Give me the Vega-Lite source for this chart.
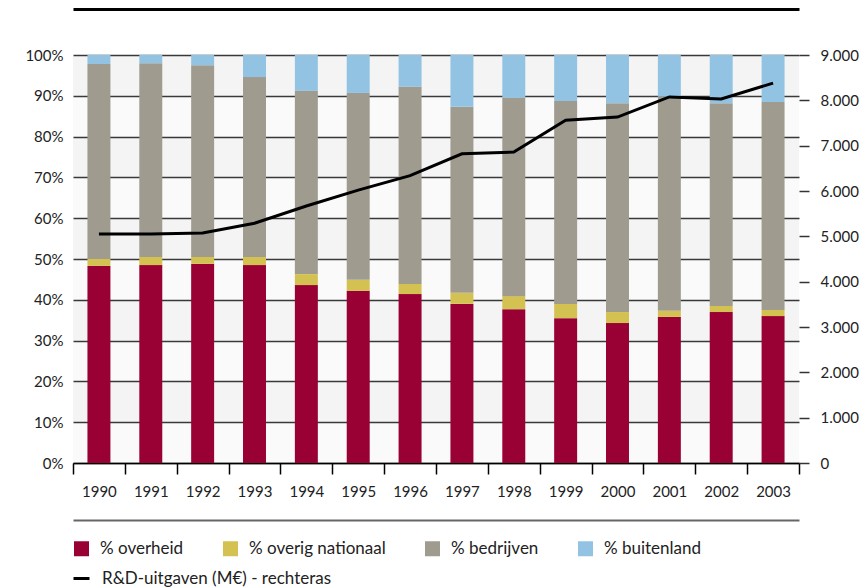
{
  "$schema": "https://vega.github.io/schema/vega-lite/v6.json",
  "width": 726,
  "height": 408,
  "autosize": "none",
  "padding": {"left": 73, "top": 55, "right": 60, "bottom": 125},
  "background": "white",
  "config": {
    "view": {"fill": "#fafafa", "stroke": null},
    "font": "Lato",
    "axis": {"labelFont": "Lato", "labelFontSize": 15, "labelColor": "#222", "title": null},
    "legend": {"labelFont": "Lato", "labelFontSize": 17, "labelColor": "#222", "labelLimit": 500}
  },
  "datasets": {
    "stripes": [
      {"lo": 90, "hi": 100}, {"lo": 70, "hi": 80}, {"lo": 50, "hi": 60}, {"lo": 30, "hi": 40}, {"lo": 10, "hi": 20}
    ],
    "shares": [
      {"year": "1990", "source": "% overheid", "rank": 1, "pct": 48.3}, {"year": "1990", "source": "% overig nationaal", "rank": 2, "pct": 1.7}, {"year": "1990", "source": "% bedrijven", "rank": 3, "pct": 47.8}, {"year": "1990", "source": "% buitenland", "rank": 4, "pct": 2.2},
      {"year": "1991", "source": "% overheid", "rank": 1, "pct": 48.5}, {"year": "1991", "source": "% overig nationaal", "rank": 2, "pct": 2.0}, {"year": "1991", "source": "% bedrijven", "rank": 3, "pct": 47.5}, {"year": "1991", "source": "% buitenland", "rank": 4, "pct": 2.0},
      {"year": "1992", "source": "% overheid", "rank": 1, "pct": 48.8}, {"year": "1992", "source": "% overig nationaal", "rank": 2, "pct": 1.7}, {"year": "1992", "source": "% bedrijven", "rank": 3, "pct": 47.0}, {"year": "1992", "source": "% buitenland", "rank": 4, "pct": 2.5},
      {"year": "1993", "source": "% overheid", "rank": 1, "pct": 48.5}, {"year": "1993", "source": "% overig nationaal", "rank": 2, "pct": 2.0}, {"year": "1993", "source": "% bedrijven", "rank": 3, "pct": 44.1}, {"year": "1993", "source": "% buitenland", "rank": 4, "pct": 5.4},
      {"year": "1994", "source": "% overheid", "rank": 1, "pct": 43.6}, {"year": "1994", "source": "% overig nationaal", "rank": 2, "pct": 2.7}, {"year": "1994", "source": "% bedrijven", "rank": 3, "pct": 44.9}, {"year": "1994", "source": "% buitenland", "rank": 4, "pct": 8.8},
      {"year": "1995", "source": "% overheid", "rank": 1, "pct": 42.2}, {"year": "1995", "source": "% overig nationaal", "rank": 2, "pct": 2.7}, {"year": "1995", "source": "% bedrijven", "rank": 3, "pct": 45.8}, {"year": "1995", "source": "% buitenland", "rank": 4, "pct": 9.3},
      {"year": "1996", "source": "% overheid", "rank": 1, "pct": 41.4}, {"year": "1996", "source": "% overig nationaal", "rank": 2, "pct": 2.5}, {"year": "1996", "source": "% bedrijven", "rank": 3, "pct": 48.3}, {"year": "1996", "source": "% buitenland", "rank": 4, "pct": 7.8},
      {"year": "1997", "source": "% overheid", "rank": 1, "pct": 39.0}, {"year": "1997", "source": "% overig nationaal", "rank": 2, "pct": 2.7}, {"year": "1997", "source": "% bedrijven", "rank": 3, "pct": 45.6}, {"year": "1997", "source": "% buitenland", "rank": 4, "pct": 12.7},
      {"year": "1998", "source": "% overheid", "rank": 1, "pct": 37.7}, {"year": "1998", "source": "% overig nationaal", "rank": 2, "pct": 3.2}, {"year": "1998", "source": "% bedrijven", "rank": 3, "pct": 48.6}, {"year": "1998", "source": "% buitenland", "rank": 4, "pct": 10.5},
      {"year": "1999", "source": "% overheid", "rank": 1, "pct": 35.5}, {"year": "1999", "source": "% overig nationaal", "rank": 2, "pct": 3.5}, {"year": "1999", "source": "% bedrijven", "rank": 3, "pct": 49.7}, {"year": "1999", "source": "% buitenland", "rank": 4, "pct": 11.3},
      {"year": "2000", "source": "% overheid", "rank": 1, "pct": 34.3}, {"year": "2000", "source": "% overig nationaal", "rank": 2, "pct": 2.7}, {"year": "2000", "source": "% bedrijven", "rank": 3, "pct": 51.2}, {"year": "2000", "source": "% buitenland", "rank": 4, "pct": 11.8},
      {"year": "2001", "source": "% overheid", "rank": 1, "pct": 35.8}, {"year": "2001", "source": "% overig nationaal", "rank": 2, "pct": 1.5}, {"year": "2001", "source": "% bedrijven", "rank": 3, "pct": 52.5}, {"year": "2001", "source": "% buitenland", "rank": 4, "pct": 10.2},
      {"year": "2002", "source": "% overheid", "rank": 1, "pct": 37.0}, {"year": "2002", "source": "% overig nationaal", "rank": 2, "pct": 1.5}, {"year": "2002", "source": "% bedrijven", "rank": 3, "pct": 49.7}, {"year": "2002", "source": "% buitenland", "rank": 4, "pct": 11.8},
      {"year": "2003", "source": "% overheid", "rank": 1, "pct": 36.0}, {"year": "2003", "source": "% overig nationaal", "rank": 2, "pct": 1.5}, {"year": "2003", "source": "% bedrijven", "rank": 3, "pct": 51.0}, {"year": "2003", "source": "% buitenland", "rank": 4, "pct": 11.5}
    ],
    "spend": [
      {"year": "1990", "spend": 5050}, {"year": "1991", "spend": 5050}, {"year": "1992", "spend": 5075},
      {"year": "1993", "spend": 5290}, {"year": "1994", "spend": 5670}, {"year": "1995", "spend": 6020},
      {"year": "1996", "spend": 6340}, {"year": "1997", "spend": 6820}, {"year": "1998", "spend": 6860},
      {"year": "1999", "spend": 7560}, {"year": "2000", "spend": 7630}, {"year": "2001", "spend": 8075},
      {"year": "2002", "spend": 8030}, {"year": "2003", "spend": 8380}
    ]
  },
  "layer": [
    {
      "data": {"name": "stripes"},
      "mark": {"type": "rect", "fill": "#000", "opacity": 0.025},
      "encoding": {
        "y": {"field": "lo", "type": "quantitative", "scale": {"domain": [0, 100], "nice": false}, "axis": null},
        "y2": {"field": "hi"}
      }
    },
    {
      "data": {"name": "shares"},
      "mark": {"type": "bar", "width": {"band": 0.443}},
      "encoding": {
        "x": {
          "field": "year", "type": "ordinal",
          "scale": {"type": "band", "paddingInner": 0, "paddingOuter": 0},
          "axis": {
            "orient": "bottom", "tickBand": "extent", "tickSize": 11, "tickColor": "#000", "tickWidth": 1.5,
            "domainColor": "#000", "domainWidth": 1.5, "labelPadding": 10, "labelAngle": 0, "grid": false, "title": null
          }
        },
        "y": {
          "field": "pct", "type": "quantitative", "stack": "zero",
          "scale": {"domain": [0, 100], "nice": false},
          "axis": {
            "orient": "left", "values": [0, 10, 20, 30, 40, 50, 60, 70, 80, 90, 100],
            "labelExpr": "datum.value + '%'", "grid": true, "gridColor": "#3a3a3a", "gridWidth": 1.4,
            "ticks": false, "domain": false, "labelPadding": 10, "title": null
          }
        },
        "order": {"field": "rank", "type": "quantitative", "sort": "ascending"},
        "color": {
          "field": "source", "type": "nominal",
          "sort": ["% overheid", "% overig nationaal", "% bedrijven", "% buitenland"],
          "scale": {
            "domain": ["% overheid", "% overig nationaal", "% bedrijven", "% buitenland"],
            "range": ["#990033", "#d3c152", "#9f9b8f", "#93c3e3"]
          },
          "legend": {
            "orient": "none", "legendX": 0, "legendY": 485, "direction": "horizontal", "columns": 4,
            "title": null, "symbolType": "square", "symbolSize": 225, "symbolStrokeWidth": 0,
            "labelOffset": 10, "columnPadding": 38, "padding": 0
          }
        }
      }
    },
    {
      "data": {"name": "spend"},
      "mark": {"type": "line", "strokeWidth": 3, "color": "#000"},
      "encoding": {
        "x": {
          "field": "year", "type": "ordinal",
          "axis": {"orient": "top", "offset": 46, "domain": true, "domainColor": "#000", "domainWidth": 3,
                   "labels": false, "ticks": false, "grid": false, "title": null}
        },
        "y": {
          "field": "spend", "type": "quantitative",
          "scale": {"domain": [0, 9000], "nice": false},
          "axis": {
            "orient": "right", "values": [0, 1000, 2000, 3000, 4000, 5000, 6000, 7000, 8000, 9000],
            "labelExpr": "replace(format(datum.value, ',.0f'), ',', '.')",
            "tickSize": 10, "tickColor": "#333", "tickWidth": 1.5, "labelPadding": 11,
            "domain": false, "grid": false, "labelAlign": "left", "title": null
          }
        },
        "stroke": {
          "datum": "R&D-uitgaven (M€) - rechteras",
          "scale": {"range": ["#000"]},
          "legend": {
            "orient": "none", "legendX": -1, "legendY": 514, "title": null, "symbolType": "stroke",
            "symbolStrokeWidth": 3, "symbolSize": 256, "labelOffset": 11, "padding": 0
          }
        }
      }
    },
    {
      "data": {"name": "spend"},
      "mark": {"type": "rule", "opacity": 0},
      "encoding": {
        "x": {
          "field": "year", "type": "ordinal",
          "axis": {"orient": "bottom", "offset": 57, "domain": true, "domainColor": "#666", "domainWidth": 2,
                   "labels": false, "ticks": false, "grid": false, "title": null}
        }
      }
    }
  ],
  "resolve": {"scale": {"y": "independent"}, "axis": {"x": "independent"}}
}
